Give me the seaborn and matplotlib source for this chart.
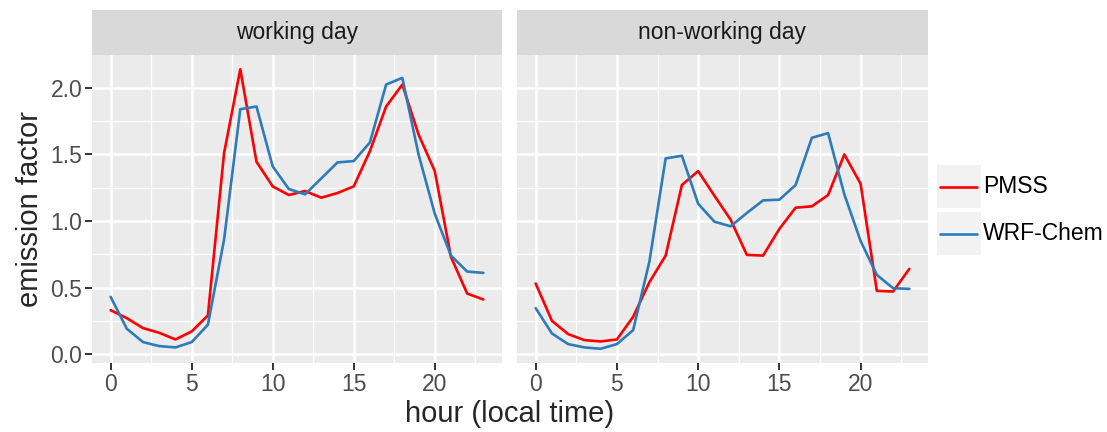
import numpy as np
import pandas as pd
import matplotlib
matplotlib.use("Agg")
import matplotlib.pyplot as plt
from matplotlib.patches import Rectangle
from matplotlib.lines import Line2D
import seaborn as sns

hours = list(range(24))
panels = ["working day", "non-working day"]
series = ["PMSS", "WRF-Chem"]
colors = ["#FF0000", "#2D7BBB"]

pmss_work = [0.33, 0.27, 0.195, 0.16, 0.11, 0.17, 0.29, 1.51, 2.14, 1.445, 1.26, 1.195,
             1.225, 1.175, 1.21, 1.26, 1.525, 1.86, 2.025, 1.65, 1.375, 0.73, 0.455, 0.41]
wrf_work = [0.43, 0.19, 0.09, 0.06, 0.05, 0.09, 0.22, 0.86, 1.84, 1.86, 1.41, 1.24,
            1.20, 1.32, 1.44, 1.45, 1.59, 2.025, 2.075, 1.50, 1.055, 0.74, 0.62, 0.61]
pmss_nonwork = [0.53, 0.25, 0.15, 0.105, 0.095, 0.11, 0.28, 0.54, 0.74, 1.27, 1.375, 1.19,
                1.01, 0.745, 0.74, 0.94, 1.10, 1.11, 1.195, 1.50, 1.28, 0.475, 0.47, 0.64]
wrf_nonwork = [0.345, 0.155, 0.075, 0.05, 0.04, 0.075, 0.18, 0.695, 1.47, 1.49, 1.13, 0.995,
               0.96, 1.06, 1.155, 1.16, 1.27, 1.625, 1.66, 1.20, 0.85, 0.595, 0.495, 0.49]

x_ticks = [0, 5, 10, 15, 20]
y_ticks = [0.0, 0.5, 1.0, 1.5, 2.0]
y_tick_labels = ["0.0", "0.5", "1.0", "1.5", "2.0"]

rows = []
for panel, (p, w) in zip(panels, [(pmss_work, wrf_work), (pmss_nonwork, wrf_nonwork)]):
    for s, vals in zip(series, (p, w)):
        for h, v in zip(hours, vals):
            rows.append({"panel": panel, "model": s, "hour": h, "ef": v})
df = pd.DataFrame(rows)

sns.set_theme(style="white")
plt.rcParams["font.family"] = ["Liberation Sans", "DejaVu Sans"]

W, H = 1107, 432
fig = plt.figure(figsize=(W / 100, H / 100), dpi=100)

panel_top, panel_bot = 55, 363
strip_top = 10
lefts = [(92, 502), (517, 928)]
pal = dict(zip(series, colors))
LW = 1.9

for i, (panel, (l, r)) in enumerate(zip(panels, lefts)):
    ax = fig.add_axes([l / W, 1 - panel_bot / H, (r - l) / W, (panel_bot - panel_top) / H])
    ax.set_facecolor("#EBEBEB")
    for sp in ax.spines.values():
        sp.set_visible(False)
    ax.set_xlim(-1.15, 24.15)
    ax.set_ylim(-0.067, 2.247)
    for xm in [2.5, 7.5, 12.5, 17.5, 22.5]:
        ax.axvline(xm, color="white", lw=0.9, zorder=0.5)
    for ym in [0.25, 0.75, 1.25, 1.75]:
        ax.axhline(ym, color="white", lw=0.9, zorder=0.5)
    for xm in x_ticks:
        ax.axvline(xm, color="white", lw=1.8, zorder=0.6)
    for ym in y_ticks:
        ax.axhline(ym, color="white", lw=1.8, zorder=0.6)
    sub = df[df["panel"] == panel]
    sns.lineplot(data=sub, x="hour", y="ef", hue="model", palette=pal,
                 hue_order=series, ax=ax, lw=LW, legend=False, zorder=3)
    ax.set_xticks(x_ticks)
    ax.set_xticklabels([str(t) for t in x_ticks])
    ax.tick_params(axis="x", length=5, width=1.4, color="#333333",
                   labelsize=16.5, labelcolor="#4D4D4D", pad=2, direction="out", bottom=True)
    if i == 0:
        ax.set_yticks(y_ticks)
        ax.set_yticklabels(y_tick_labels)
        ax.tick_params(axis="y", length=5, width=1.4, color="#333333",
                       labelsize=16.5, labelcolor="#4D4D4D", pad=2, direction="out", left=True)
    else:
        ax.set_yticks(y_ticks)
        ax.tick_params(axis="y", left=False, labelleft=False)
    ax.set_xlabel("")
    ax.set_ylabel("")
    sax = fig.add_axes([l / W, 1 - panel_top / H, (r - l) / W, (panel_top - strip_top) / H])
    sax.set_facecolor("#D9D9D9")
    sax.set_xticks([]); sax.set_yticks([])
    for sp in sax.spines.values():
        sp.set_visible(False)
    sax.text(0.5, 0.5, panel, ha="center", va="center", fontsize=16.5,
             color="#1A1A1A", transform=sax.transAxes)

fig.text(510 / W, 1 - 414 / H, "hour (local time)", ha="center", va="center", fontsize=21)
fig.text(30 / W, 1 - 209 / H, "emission factor", ha="center", va="center",
         fontsize=21, rotation=90)

# legend
key_tops = [165, 212]
for s, top in zip(series, key_tops):
    fig.patches.append(Rectangle((937 / W, 1 - (top + 43) / H), 44 / W, 43 / H,
                                 transform=fig.transFigure, facecolor="#F2F2F2",
                                 edgecolor="none"))
    yc = 1 - (top + 21.5) / H
    fig.lines.append(Line2D([940 / W, 977 / W], [yc, yc], transform=fig.transFigure,
                            color=pal[s], lw=LW))
    fig.text(983 / W, yc, s, ha="left", va="center", fontsize=16.5, color="black")

fig.savefig("out.png", dpi=100)
